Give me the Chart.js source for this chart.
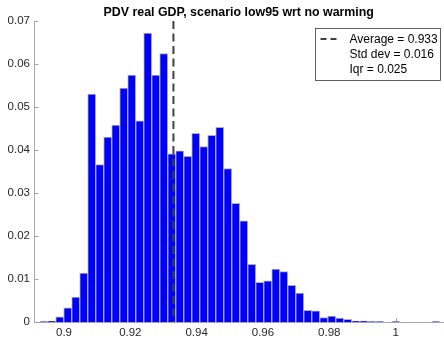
<!DOCTYPE html>
<html>
<head>
<meta charset="utf-8">
<script src="https://cdn.jsdelivr.net/npm/chart.js@4/dist/chart.umd.min.js"></script>
<style>
  html, body { margin: 0; padding: 0; background: #ffffff; }
  #wrap { width: 444px; height: 339px; }
</style>
</head>
<body>
<div id="wrap"><canvas id="c" width="444" height="339"></canvas></div>
<script>
// Histogram of PDV real GDP ratio (scenario low95 vs no warming), probability-normalised
const binCenters = [
  0.89388, 0.89629, 0.89871, 0.90112, 0.90353, 0.90595, 0.90836, 0.91077, 0.91318, 0.91560,
  0.91801, 0.92042, 0.92284, 0.92525, 0.92766, 0.93008, 0.93249, 0.93490, 0.93731, 0.93973,
  0.94214, 0.94455, 0.94697, 0.94938, 0.95179, 0.95421, 0.95662, 0.95903, 0.96144, 0.96386,
  0.96627, 0.96868, 0.97110, 0.97351, 0.97592, 0.97834, 0.98075, 0.98316, 0.98557, 0.98799,
  0.99040, 0.99281, 0.99523, 0.99764, 1.00005, 1.00247, 1.00488, 1.00729, 1.00970, 1.01212
];
const probability = [
  0.0001, 0.0002, 0.0012, 0.0033, 0.0058, 0.0114, 0.0530, 0.0366, 0.0430, 0.0458,
  0.0544, 0.0574, 0.0468, 0.0672, 0.0574, 0.0624, 0.0391, 0.0398, 0.0385, 0.0439,
  0.0408, 0.0434, 0.0453, 0.0357, 0.0276, 0.0235, 0.0134, 0.0092, 0.0096, 0.0123,
  0.0117, 0.0085, 0.0067, 0.0027, 0.0026, 0.0010, 0.0014, 0.0009, 0.0006, 0.0002,
  0.0002, 0.0001, 0.0001, 0.0000, 0.0001, 0.0000, 0.0000, 0.0000, 0.0000, 0.0001
];
const meanValue = 0.933;
const stdDev = 0.016;
const iqrValue = 0.025;

const xTicks = [0.9, 0.92, 0.94, 0.96, 0.98, 1];
const xTickLabels = ['0.9', '0.92', '0.94', '0.96', '0.98', '1'];
const yTicks = [0, 0.01, 0.02, 0.03, 0.04, 0.05, 0.06, 0.07];
const yTickLabels = ['0', '0.01', '0.02', '0.03', '0.04', '0.05', '0.06', '0.07'];

const titleText = 'PDV real GDP, scenario low95 wrt no warming';
const legendLabels = [
  'Average = ' + meanValue.toFixed(3),
  'Std dev = ' + stdDev.toFixed(3),
  'Iqr = ' + iqrValue.toFixed(3)
];

const FONT = '"Liberation Sans", Arial, Helvetica, sans-serif';
const AXIS_COLOR = '#a6a6a6';
const TEXT_COLOR = '#262626';

// Title centred over the plotting area
const titlePlugin = {
  id: 'axesTitle',
  afterDraw(chart) {
    const { ctx, chartArea } = chart;
    ctx.save();
    ctx.font = 'bold 12.4px ' + FONT;
    ctx.fillStyle = '#000000';
    ctx.textAlign = 'center';
    ctx.textBaseline = 'middle';
    ctx.fillText(titleText, (chartArea.left + chartArea.right) / 2, 13);
    ctx.restore();
  }
};

// Inward-pointing tick marks on the x and y axes
const innerTicksPlugin = {
  id: 'innerTicks',
  beforeDatasetsDraw(chart) {
    const { ctx, chartArea, scales } = chart;
    ctx.save();
    ctx.strokeStyle = AXIS_COLOR;
    ctx.lineWidth = 1;
    ctx.beginPath();
    xTicks.forEach(v => {
      const px = Math.round(scales.x.getPixelForValue(v)) + 0.5;
      ctx.moveTo(px, chartArea.bottom);
      ctx.lineTo(px, chartArea.bottom - 4);
    });
    yTicks.forEach(v => {
      const py = Math.round(scales.y.getPixelForValue(v)) + 0.5;
      ctx.moveTo(chartArea.left, py);
      ctx.lineTo(chartArea.left + 4, py);
    });
    ctx.stroke();
    ctx.restore();
  }
};

// Boxed legend in the upper right corner
const legendBoxPlugin = {
  id: 'legendBox',
  afterDraw(chart) {
    const { ctx, chartArea } = chart;
    const boxW = 125, boxH = 52;
    const bx = chartArea.right - boxW - 2.5;
    const by = 28.5;
    ctx.save();
    ctx.fillStyle = '#ffffff';
    ctx.fillRect(bx, by, boxW, boxH);
    ctx.strokeStyle = '#3a3a3a';
    ctx.lineWidth = 0.8;
    ctx.strokeRect(bx, by, boxW, boxH);

    // sample of the dashed average line
    ctx.strokeStyle = '#404040';
    ctx.lineWidth = 2;
    ctx.setLineDash([6, 4]);
    ctx.beginPath();
    ctx.moveTo(bx + 5, by + 10.5);
    ctx.lineTo(bx + 21, by + 10.5);
    ctx.stroke();
    ctx.setLineDash([]);

    ctx.font = '12px ' + FONT;
    ctx.fillStyle = '#000000';
    ctx.textAlign = 'left';
    ctx.textBaseline = 'middle';
    legendLabels.forEach((t, i) => {
      ctx.fillText(t, bx + 34, by + 11 + i * 15);
    });
    ctx.restore();
  }
};

new Chart(document.getElementById('c'), {
  data: {
    datasets: [
      {
        type: 'line',
        label: legendLabels[0],
        data: [{ x: meanValue, y: 0.07 }, { x: meanValue, y: 0 }],
        borderColor: '#404040',
        borderWidth: 2,
        borderDash: [8, 4.5],
        pointRadius: 0,
        fill: false,
        order: 0
      },
      {
        type: 'bar',
        label: 'probability',
        data: binCenters.map((x, i) => ({ x: x, y: probability[i] })),
        backgroundColor: '#0000ff',
        borderColor: '#b0b0b0',
        borderWidth: 1,
        barPercentage: 1,
        categoryPercentage: 1,
        order: 1
      }
    ]
  },
  options: {
    responsive: false,
    animation: false,
    devicePixelRatio: 1,
    layout: { padding: { top: 21, right: 1, left: 0, bottom: 0 } },
    plugins: {
      legend: { display: false },
      tooltip: { enabled: false },
      title: { display: false }
    },
    scales: {
      x: {
        type: 'linear',
        min: 0.8911,
        max: 1.0143,
        offset: false,
        grid: { display: false, drawTicks: false, offset: false },
        border: { display: true, color: AXIS_COLOR, width: 1 },
        ticks: {
          font: { family: FONT, size: 11.5 },
          color: TEXT_COLOR,
          padding: 4,
          maxRotation: 0,
          autoSkip: false,
          callback: (v) => {
            const i = xTicks.findIndex(t => Math.abs(t - v) < 1e-9);
            return i >= 0 ? xTickLabels[i] : '';
          }
        },
        afterBuildTicks: (s) => { s.ticks = xTicks.map(v => ({ value: v })); },
        afterFit: (s) => { s.height = 17; }
      },
      y: {
        type: 'linear',
        min: 0,
        max: 0.07,
        grid: { display: false, drawTicks: false },
        border: { display: true, color: AXIS_COLOR, width: 1 },
        ticks: {
          font: { family: FONT, size: 11.5 },
          color: TEXT_COLOR,
          padding: 4.5,
          autoSkip: false,
          callback: (v) => {
            const i = yTicks.findIndex(t => Math.abs(t - v) < 1e-9);
            return i >= 0 ? yTickLabels[i] : '';
          }
        },
        afterBuildTicks: (s) => { s.ticks = yTicks.map(v => ({ value: v })); },
        afterFit: (s) => { s.width = 34.5; }
      }
    }
  },
  plugins: [innerTicksPlugin, titlePlugin, legendBoxPlugin]
});
</script>
</body>
</html>
